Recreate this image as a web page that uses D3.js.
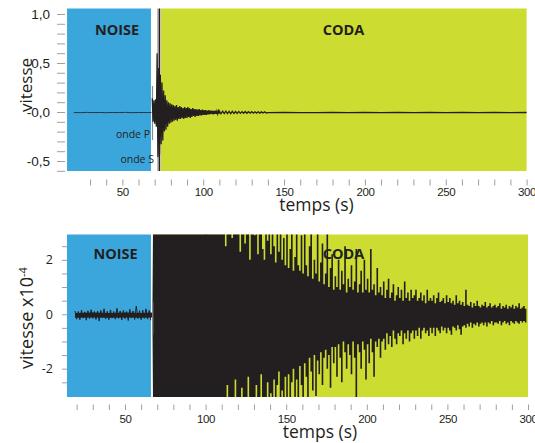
<!DOCTYPE html>
<html>
<head>
<meta charset="utf-8">
<script src="https://cdn.jsdelivr.net/npm/d3@7"></script>
<style>
body { margin: 0; background: #fff; }
svg text { font-family: "Open Sans", sans-serif; fill: #231f20; }
.tick line { stroke: #a39e9e; }
.tick text { fill: #231f20; }
</style>
</head>
<body>
<div id="chart"></div>
<script>
// ---- data ----
// time windows in seconds
var noiseTop = [15.8, 67.7], codaTop = [73.9, 300];
var noiseBot = [14.0, 66.1], codaBot = [67.4, 300];
var pPickTop = 68.65, sPickTop = 72.95, sEdgeTop = 72.0, pPickBot = 67.2;

// axis ticks
var xTicksTop = [30,40,50,60,70,80,90,100,110,120,130,140,150,160,170,180,190,200,210,220,230,240,250,260,270,280,290,300];
var xTicksBot = [20].concat(xTicksTop);
var xLabels = [50, 100, 150, 200, 250, 300];
var yTicksTop = [-0.6,-0.5,-0.4,-0.3,-0.2,-0.1,0,0.1,0.2,0.3,0.4,0.5,0.6,0.7,0.8,0.9,1.0];
var yLabelValsTop = [1.0, 0.5, 0, -0.5];
var yLabelsTop = ["1,0", "0,5", "-0,0", "-0,5"];
var yTicksBot = [-2.5,-2,-1.5,-1,-0.5,0,0.5,1,1.5,2,2.5];
var yLabelValsBot = [2, 0, -2];
var yLabelsBot = ["2", "0", "-2"];

// top trace: pre-event noise (every 4 s from 20 s)
var topNoiseT0 = 20, topNoiseStep = 4;
var topNoise = [-0.005,-0.007,-0.004,-0.006,-0.005,-0.007,-0.005,-0.006,-0.004,-0.007,-0.005,-0.006,-0.005];
// top trace: P and S arrivals, peaks every 0.5 s from 68.5 s
var topPeaksT0 = 68.5, topPeaksStep = 0.5;
var topPeaks = [
  0.14,-0.10,0.12,-0.12,0.13,-0.15,
  0.60,-0.46,0.45,-0.43,0.38,-0.33,
  0.30,-0.29,0.22,-0.20,0.17,-0.18,
  0.12,-0.15,0.10,-0.12,0.09,-0.11,
  0.08,-0.10,0.07,-0.09,0.06,-0.08,
  0.07,-0.09,0.05,-0.07,0.06,-0.07,
  0.05,-0.06,0.04,-0.07,0.05,-0.06,
  0.04,-0.06,0.05,-0.05,0.04,-0.06,
  0.03,-0.05,0.04,-0.04,0.03,-0.05,
  0.03,-0.04,0.025,-0.04,0.03,-0.035,
  0.02,-0.035,0.025,-0.03,0.02,-0.03,
  0.02,-0.03,0.015,-0.025,0.02,-0.025,
  0.015,-0.02,0.015,-0.025,0.01,-0.02,
  0.015,-0.02,0.01,-0.02,0.01,-0.015
];
// top trace: late coda, every 1 s from 110 s, then every 10 s from 140 s
var topTailT0 = 110;
var topTail = [
  0.010,-0.018,0.008,-0.017,0.009,-0.016,0.006,-0.016,0.007,-0.015,
  0.005,-0.014,0.006,-0.014,0.004,-0.013,0.005,-0.013,0.003,-0.012,
  0.003,-0.012,0.002,-0.011,0.002,-0.011,0.001,-0.010,0.001,-0.010
];
var topFlatT0 = 140;
var topFlat = [-0.006,-0.005,-0.006,-0.006,-0.005,-0.006,-0.005,-0.006,-0.005,-0.006,-0.005,-0.006,-0.005,-0.006,-0.005,-0.006,-0.005];

// bottom trace (x1e-4): noise band and saturated part
var coreT  = [19, 30, 40, 50, 60, 67, 67.4, 100.5];
var coreHi = [0.05, 0.06, 0.05, 0.06, 0.05, 0.06, 3.5, 3.5];
var coreLo = [-0.13, -0.12, -0.13, -0.12, -0.13, -0.12, -3.5, -3.5];
// bottom trace: noise peaks every 1 s from 19 s
var noiseT0 = 19;
var noisePeaks = [
  0.12,-0.18,0.10,-0.20,0.15,-0.14,0.09,-0.22,0.13,-0.16,
  0.17,-0.15,0.10,-0.19,0.12,-0.25,0.14,-0.13,0.20,-0.17,
  0.11,-0.20,0.16,-0.14,0.10,-0.18,0.22,-0.15,0.12,-0.21,
  0.14,-0.16,0.10,-0.23,0.18,-0.14,0.12,-0.19,0.30,-0.16,
  0.13,-0.20,0.15,-0.15,0.20,-0.18,0.14,-0.22
];
// bottom trace: coda max / min per second from 100 s
var codaT0 = 100;
var codaHi = [
  3.5,3.5,3.5,3.5,3.5,3.5,3.5,3.5,3.5,3.5,
  3.5,3.5,2.5,3.5,3.5,3.5,2.8,3.5,3.5,3.5,
  3.5,2.3,3.5,3.5,2.6,3.5,3.5,2.0,3.5,3.5,
  2.9,3.5,2.2,3.5,3.5,2.4,2.0,3.5,2.7,3.5,
  2.2,3.5,2.5,1.9,3.5,2.3,3.5,2.0,2.8,1.8,
  3.5,1.7,2.4,3.5,1.6,2.1,3.5,1.8,1.6,2.9,
  1.5,3.5,1.8,1.4,2.5,3.5,1.3,2.0,1.5,3.5,
  1.2,1.9,2.6,1.1,1.5,3.5,1.0,1.7,2.2,0.9,
  1.4,1.0,2.0,0.9,1.6,1.1,2.5,0.8,1.3,1.0,
  1.8,0.9,1.2,2.4,0.8,1.1,1.6,0.8,2.0,0.9,
  1.3,0.8,2.4,0.9,1.1,0.7,1.7,0.8,1.0,0.7,
  1.2,0.6,0.9,1.3,0.6,0.8,1.1,0.5,0.7,1.0,
  0.6,0.9,0.5,1.2,0.6,0.8,0.5,0.9,0.6,0.7,
  0.9,0.5,0.6,0.8,0.5,0.7,0.4,0.9,0.5,0.6,
  0.5,0.7,0.4,0.6,0.8,0.45,0.5,0.6,0.4,0.7,
  0.45,0.6,0.4,0.5,0.35,0.7,0.4,0.5,0.35,0.45,
  0.3,0.9,0.35,0.3,0.45,0.25,0.4,0.3,0.5,0.3,
  0.25,0.35,0.3,0.45,0.25,0.3,0.4,0.25,0.3,0.35,
  0.25,0.3,0.4,0.2,0.3,0.25,0.35,0.2,0.3,0.25,
  0.35,0.2,0.3,0.25,0.4,0.2,0.25,0.3,0.2,0.25
];
var codaLo = [
  -3.5,-3.5,-3.5,-3.5,-3.5,-3.5,-3.5,-3.5,-3.5,-3.5,
  -3.5,-3.5,-3.5,-2.6,-3.5,-3.5,-3.5,-3.5,-2.4,-3.5,
  -3.5,-3.5,-2.7,-3.5,-3.5,-3.5,-2.3,-3.5,-3.5,-3.5,
  -3.5,-2.6,-3.5,-3.5,-2.2,-3.5,-3.5,-3.5,-2.5,-3.5,
  -2.9,-3.5,-2.4,-3.5,-2.6,-2.1,-3.5,-2.8,-3.5,-2.3,
  -3.5,-2.2,-3.5,-2.5,-2.0,-3.5,-2.4,-3.5,-1.9,-2.6,
  -3.5,-1.8,-2.3,-3.5,-1.6,-2.1,-2.8,-1.5,-3.0,-1.7,
  -2.2,-1.4,-2.6,-1.6,-1.3,-2.0,-1.5,-2.7,-1.2,-1.8,
  -1.2,-2.3,-1.1,-1.6,-2.5,-1.0,-1.4,-2.0,-1.1,-1.5,
  -2.2,-1.0,-1.6,-3.5,-1.1,-1.4,-2.0,-1.0,-1.3,-2.4,
  -1.1,-1.8,-0.9,-1.4,-2.3,-1.0,-1.2,-0.9,-1.6,-1.0,
  -0.9,-1.3,-0.7,-1.1,-0.8,-1.2,-0.6,-0.9,-1.1,-0.7,
  -0.8,-0.6,-1.1,-0.7,-0.9,-0.6,-1.0,-0.7,-0.6,-0.9,
  -0.6,-0.8,-0.5,-0.9,-0.6,-0.5,-0.7,-0.6,-0.8,-0.5,
  -0.7,-0.5,-0.8,-0.5,-0.6,-0.7,-0.45,-0.6,-0.5,-0.7,
  -0.5,-0.6,-0.75,-0.45,-0.5,-0.6,-0.4,-0.55,-0.75,-0.45,
  -0.4,-0.5,-0.35,-0.45,-0.3,-0.5,-0.35,-0.4,-0.3,-0.45,
  -0.35,-0.3,-0.4,-0.3,-0.45,-0.3,-0.35,-0.25,-0.4,-0.3,
  -0.3,-0.35,-0.25,-0.4,-0.3,-0.25,-0.35,-0.3,-0.4,-0.25,
  -0.3,-0.35,-0.25,-0.3,-0.35,-0.25,-0.3,-0.25,-0.3,-0.3
];
// pick segment on the bottom trace
var pPickBotRange = [0.45, -0.75];

var blue = "#3ba6dc", green = "#cddc30", ink = "#231f20";

// ---- layout ----
var svg = d3.select("#chart").append("svg")
    .attr("width", 535)
    .attr("height", 443);

var xTop = d3.scaleLinear().domain([0, 300]).range([41.5, 526.6]);
var yTop = d3.scaleLinear().domain([-0.602, 1.056]).range([171, 8.5]);
var xBot = d3.scaleLinear().domain([0, 300]).range([44.4, 528]);
var yBot = d3.scaleLinear().domain([-3.04, 2.93]).range([397, 234.5]);

function series(t0, step, vals) {
    return vals.map(function(v, i) { return [t0 + i * step, v]; });
}

// ================= top panel =================
var gTop = svg.append("g");

gTop.append("rect")
    .attr("x", xTop(noiseTop[0])).attr("width", xTop(noiseTop[1]) - xTop(noiseTop[0]))
    .attr("y", yTop.range()[1]).attr("height", yTop.range()[0] - yTop.range()[1])
    .attr("fill", blue);
gTop.append("rect")
    .attr("x", xTop(codaTop[0])).attr("width", xTop(codaTop[1]) - xTop(codaTop[0]))
    .attr("y", yTop.range()[1]).attr("height", yTop.range()[0] - yTop.range()[1])
    .attr("fill", green);

var lineTop = d3.line().x(d => xTop(d[0])).y(d => yTop(d[1]));

gTop.append("path")
    .attr("d", lineTop(series(topNoiseT0, topNoiseStep, topNoise)))
    .attr("fill", "none").attr("stroke", "#2c3640").attr("stroke-width", 1);

// pick markers
gTop.append("line")
    .attr("x1", xTop(pPickTop)).attr("x2", xTop(pPickTop))
    .attr("y1", yTop(0.265)).attr("y2", yTop(-0.286))
    .attr("stroke", "#8a8a8a").attr("stroke-width", 1.2);
gTop.append("line")
    .attr("x1", xTop(sEdgeTop)).attr("x2", xTop(sEdgeTop))
    .attr("y1", yTop.range()[1]).attr("y2", yTop.range()[0])
    .attr("stroke", "#8a8a8a").attr("stroke-width", 1);
gTop.append("line")
    .attr("x1", xTop(sPickTop)).attr("x2", xTop(sPickTop))
    .attr("y1", yTop.range()[1]).attr("y2", yTop.range()[0])
    .attr("stroke", ink).attr("stroke-width", 1.6);

var topTrace = series(topPeaksT0, topPeaksStep, topPeaks)
    .concat(series(topTailT0, 1, topTail))
    .concat(series(topFlatT0, 10, topFlat));
gTop.append("path")
    .attr("d", lineTop(topTrace))
    .attr("fill", "none").attr("stroke", ink).attr("stroke-width", 1.3);

// axes
var xAxisTop = d3.axisBottom(xTop)
    .tickValues(xTicksTop)
    .tickSize(6).tickPadding(2.5)
    .tickFormat(d => xLabels.indexOf(d) >= 0 ? d : "");
svg.append("g").attr("class", "xaxis")
    .attr("transform", "translate(0,179.5)")
    .call(xAxisTop)
    .call(g => g.select(".domain").remove());

var yAxisTop = d3.axisLeft(yTop)
    .tickValues(yTicksTop)
    .tickSize(8).tickPadding(7)
    .tickFormat(function(d) {
        var i = yLabelValsTop.findIndex(v => Math.abs(v - d) < 1e-6);
        return i >= 0 ? yLabelsTop[i] : "";
    });
svg.append("g").attr("class", "yaxis")
    .attr("transform", "translate(65,0)")
    .call(yAxisTop)
    .call(g => g.select(".domain").remove());

// ================= bottom panel =================
var gBot = svg.append("g");

gBot.append("rect")
    .attr("x", xBot(noiseBot[0])).attr("width", xBot(noiseBot[1]) - xBot(noiseBot[0]))
    .attr("y", yBot.range()[1]).attr("height", yBot.range()[0] - yBot.range()[1])
    .attr("fill", blue);
gBot.append("rect")
    .attr("x", xBot(codaBot[0])).attr("width", xBot(codaBot[1]) - xBot(codaBot[0]))
    .attr("y", yBot.range()[1]).attr("height", yBot.range()[0] - yBot.range()[1])
    .attr("fill", green);

svg.append("clipPath").attr("id", "clipBot")
  .append("rect")
    .attr("x", xBot(noiseBot[0])).attr("width", xBot(codaBot[1]) - xBot(noiseBot[0]))
    .attr("y", yBot.range()[1]).attr("height", yBot.range()[0] - yBot.range()[1]);

var gWave = gBot.append("g").attr("clip-path", "url(#clipBot)");

var coreArea = d3.area()
    .x((d, i) => xBot(coreT[i]))
    .y0((d, i) => yBot(coreLo[i]))
    .y1((d, i) => yBot(coreHi[i]));
gWave.append("path")
    .attr("d", coreArea(coreT))
    .attr("fill", ink);

var lineBot = d3.line().x(d => xBot(d[0])).y(d => yBot(d[1]));
gWave.append("path")
    .attr("d", lineBot(series(noiseT0, 1, noisePeaks)))
    .attr("fill", "none").attr("stroke", ink).attr("stroke-width", 1);

// coda drawn as one column per second, from its minimum to its maximum
var codaArea = d3.area()
    .curve(d3.curveStepAfter)
    .x((d, i) => xBot(codaT0 + i))
    .y0((d, i) => yBot(codaLo[i]))
    .y1((d, i) => yBot(codaHi[i]));
gWave.append("path")
    .attr("d", codaArea(codaHi))
    .attr("fill", ink);

gBot.append("line")
    .attr("x1", xBot(pPickBot)).attr("x2", xBot(pPickBot))
    .attr("y1", yBot(pPickBotRange[0])).attr("y2", yBot(pPickBotRange[1]))
    .attr("stroke", "#8a8a8a").attr("stroke-width", 1.2);

var xAxisBot = d3.axisBottom(xBot)
    .tickValues(xTicksBot)
    .tickSize(5.5).tickPadding(5)
    .tickFormat(d => xLabels.indexOf(d) >= 0 ? d : "");
svg.append("g").attr("class", "xaxis")
    .attr("transform", "translate(0,404.5)")
    .call(xAxisBot)
    .call(g => g.select(".domain").remove());

var yAxisBot = d3.axisLeft(yBot)
    .tickValues(yTicksBot)
    .tickSize(5).tickPadding(9)
    .tickFormat(function(d) {
        var i = yLabelValsBot.indexOf(d);
        return i >= 0 ? yLabelsBot[i] : "";
    });
svg.append("g").attr("class", "yaxisb")
    .attr("transform", "translate(67,0)")
    .call(yAxisBot)
    .call(g => g.select(".domain").remove());

// axis text styles
svg.selectAll(".xaxis text")
    .style("font-family", "'Liberation Sans Narrow', sans-serif")
    .style("font-size", "11.5px").style("letter-spacing", "-0.4px");
svg.selectAll(".yaxis text")
    .style("font-family", "'Liberation Sans Narrow', sans-serif")
    .style("font-size", "13.5px");
svg.selectAll(".yaxisb text")
    .style("font-family", "'Open Sans', sans-serif")
    .style("font-size", "12.5px");

// ================= labels =================
function label(x, y, txt, size, weight, anchor) {
    return svg.append("text")
        .attr("x", x).attr("y", y)
        .attr("text-anchor", anchor || "middle")
        .style("font-size", size + "px")
        .style("font-weight", weight || 400)
        .text(txt);
}
label(117, 35, "NOISE", 14.5, 700);
label(343.5, 35, "CODA", 14.5, 700);
label(115.5, 259, "NOISE", 14.5, 700);
label(343.5, 259, "CODA", 14.5, 700);
label(150, 138, "onde P", 10.5, 400, "end");
label(154, 163, "onde S", 10.5, 400, "end");
label(316.5, 211, "temps (s)", 17.5);
label(320, 438, "temps (s)", 17.5);

svg.append("text")
    .attr("transform", "translate(32,85) rotate(-90)")
    .attr("text-anchor", "middle")
    .style("font-size", "17px")
    .text("vitesse");

var yl = svg.append("text")
    .attr("transform", "translate(33,318) rotate(-90)")
    .attr("text-anchor", "middle")
    .style("font-size", "18px");
yl.append("tspan").text("vitesse x10");
yl.append("tspan").attr("dy", "-0.55em").style("font-size", "11px").text("-4");
</script>
</body>
</html>
